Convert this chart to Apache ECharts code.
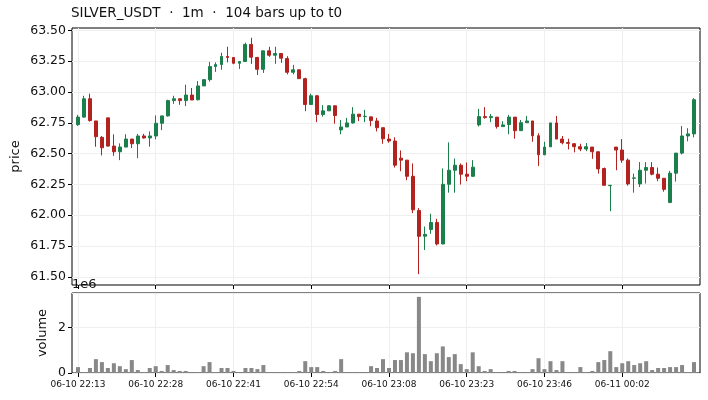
<!DOCTYPE html>
<html>
<head>
<meta charset="utf-8">
<script src="https://cdn.jsdelivr.net/npm/echarts@6/dist/echarts.min.js"></script>
<style>
  html, body { margin: 0; padding: 0; background: #fff; }
  #chart { width: 708px; height: 400px; }
</style>
</head>
<body>
<div id="chart"></div>
<script>
// 1m bars
var opens = [62.735, 62.796, 62.945, 62.765, 62.632, 62.79, 62.561, 62.515, 62.553, 62.618,
  62.58, 62.643, 62.627, 62.643, 62.746, 62.806, 62.93, 62.945, 62.93, 62.975,
  62.937, 63.049, 63.1, 63.206, 63.222, 63.288, 63.28, 63.233, 63.247, 63.386,
  63.28, 63.184, 63.334, 63.298, 63.312, 63.271, 63.16, 63.18, 63.108, 62.898,
  62.969, 62.817, 62.847, 62.888, 62.692, 62.716, 62.749, 62.82, 62.80, 62.798,
  62.765, 62.71, 62.618, 62.602, 62.463, 62.447, 62.316, 62.039, 61.83, 61.884,
  61.941, 61.767, 62.251, 62.365, 62.406, 62.333, 62.316, 62.733, 62.80, 62.792,
  62.796, 62.719, 62.735, 62.796, 62.686, 62.751, 62.765, 62.645, 62.49, 62.555,
  62.749, 62.618, 62.59, 62.58, 62.556, 62.537, 62.553, 62.515, 62.379, 62.24,
  62.553, 62.529, 62.447, 62.30, 62.254, 62.365, 62.387, 62.333, 62.30, 62.104,
  62.341, 62.504, 62.643, 62.66]
var closes = [62.796, 62.945, 62.768, 62.637, 62.547, 62.561, 62.515, 62.553, 62.618, 62.58,
  62.643, 62.627, 62.643, 62.746, 62.806, 62.93, 62.945, 62.93, 62.975, 62.935,
  63.049, 63.1, 63.206, 63.222, 63.288, 63.28, 63.233, 63.247, 63.386, 63.282,
  63.184, 63.334, 63.298, 63.312, 63.274, 63.16, 63.18, 63.108, 62.898, 62.969,
  62.817, 62.847, 62.888, 62.809, 62.716, 62.749, 62.82, 62.80, 62.803, 62.768,
  62.71, 62.62, 62.602, 62.406, 62.447, 62.316, 62.044, 61.829, 61.845, 61.941,
  61.767, 62.251, 62.365, 62.406, 62.333, 62.316, 62.39, 62.80, 62.792, 62.80,
  62.719, 62.733, 62.796, 62.686, 62.751, 62.765, 62.645, 62.49, 62.553, 62.749,
  62.618, 62.588, 62.583, 62.556, 62.537, 62.556, 62.515, 62.376, 62.243, 62.243,
  62.529, 62.447, 62.254, 62.303, 62.365, 62.387, 62.333, 62.30, 62.21, 62.341,
  62.504, 62.643, 62.66, 62.937]
var lows = [62.724, 62.79, 62.76, 62.556, 62.485, 62.556, 62.482, 62.447, 62.553, 62.545,
  62.463, 62.622, 62.556, 62.616, 62.69, 62.80, 62.904, 62.896, 62.885, 62.935,
  62.932, 63.049, 63.084, 63.163, 63.18, 63.24, 63.225, 63.187, 63.245, 63.228,
  63.138, 63.155, 63.285, 63.228, 63.236, 63.143, 63.143, 63.108, 62.844, 62.898,
  62.755, 62.80, 62.847, 62.743, 62.657, 62.716, 62.743, 62.763, 62.755, 62.722,
  62.68, 62.58, 62.588, 62.387, 62.357, 62.284, 62.017, 61.522, 61.718, 61.849,
  61.755, 61.764, 62.183, 62.183, 62.249, 62.276, 62.31, 62.72, 62.784, 62.755,
  62.703, 62.719, 62.657, 62.621, 62.686, 62.751, 62.596, 62.40, 62.49, 62.555,
  62.618, 62.575, 62.534, 62.51, 62.52, 62.52, 62.458, 62.338, 62.243, 62.033,
  62.365, 62.425, 62.24, 62.183, 62.229, 62.257, 62.324, 62.276, 62.191, 62.098,
  62.273, 62.493, 62.60, 62.632]
var highs = [62.814, 62.969, 62.986, 62.765, 62.643, 62.79, 62.656, 62.583, 62.657, 62.618,
  62.66, 62.66, 62.68, 62.81, 62.806, 62.937, 62.969, 62.945, 63.059, 63.032,
  63.089, 63.1, 63.244, 63.24, 63.318, 63.367, 63.28, 63.247, 63.40, 63.44,
  63.285, 63.334, 63.367, 63.367, 63.312, 63.29, 63.22, 63.18, 63.116, 62.986,
  62.975, 62.893, 62.893, 62.888, 62.773, 62.79, 62.877, 62.82, 62.855, 62.798,
  62.79, 62.71, 62.66, 62.632, 62.526, 62.447, 62.42, 62.058, 61.908, 62.012,
  61.971, 62.379, 62.591, 62.46, 62.42, 62.428, 62.447, 62.863, 62.877, 62.822,
  62.796, 62.763, 62.814, 62.796, 62.773, 62.806, 62.765, 62.665, 62.596, 62.749,
  62.806, 62.643, 62.621, 62.586, 62.58, 62.586, 62.553, 62.515, 62.387, 62.243,
  62.553, 62.618, 62.46, 62.338, 62.431, 62.431, 62.431, 62.387, 62.30, 62.36,
  62.504, 62.724, 62.706, 62.95]
var volumes = [260000, 40000, 220000, 610000, 480000, 220000, 430000, 300000, 170000, 570000,
  130000, 40000, 220000, 300000, 90000, 350000, 130000, 90000, 90000, 10000,
  40000, 300000, 480000, 40000, 220000, 220000, 90000, 10000, 220000, 220000,
  170000, 350000, 40000, 40000, 40000, 40000, 40000, 90000, 520000, 260000,
  260000, 90000, 10000, 90000, 610000, 40000, 40000, 40000, 10000, 300000,
  220000, 610000, 220000, 570000, 570000, 910000, 870000, 3350000, 830000, 520000,
  870000, 1170000, 700000, 830000, 390000, 170000, 910000, 300000, 90000, 170000,
  40000, 10000, 90000, 90000, 40000, 40000, 170000, 650000, 170000, 520000,
  130000, 520000, 40000, 40000, 260000, 40000, 90000, 480000, 570000, 960000,
  260000, 430000, 520000, 350000, 430000, 520000, 130000, 220000, 220000, 260000,
  260000, 350000, 40000, 480000]
var timeLabels = ['06-10 22:13', '06-10 22:28', '06-10 22:41', '06-10 22:54',
  '06-10 23:08', '06-10 23:23', '06-10 23:46', '06-11 00:02']
var priceTicks = [61.5, 61.75, 62.0, 62.25, 62.5, 62.75, 63.0, 63.25, 63.5]
var tickEvery = 13

var UP = '#1b7f4c'
var DOWN = '#b2221e'
var FONT = 'DejaVu Sans'

var chart = echarts.init(document.getElementById('chart'), null, { renderer: 'canvas' })

// one empty slot on each side, like xlim(-1, n)
var cats = ['']
var candles = ['-']
var vols = ['-']
for (var i = 0; i < opens.length; i++) {
  cats.push(String(i))
  candles.push([opens[i], closes[i], lows[i], highs[i]])
  vols.push(volumes[i])
}
cats.push('')
candles.push('-')
vols.push('-')

function isTick(index) {
  return index >= 1 && (index - 1) % tickEvery === 0 && (index - 1) / tickEvery < timeLabels.length
}

var gridLine = { show: true, lineStyle: { color: '#efefef', width: 1 } }

var option = {
  animation: false,
  backgroundColor: '#fff',
  textStyle: { fontFamily: FONT },
  title: {
    text: 'SILVER_USDT  ·  1m  ·  104 bars up to t0',
    left: 71, top: 6, padding: 0,
    textStyle: { fontFamily: FONT, fontSize: 13.5, fontWeight: 'normal', color: '#111' }
  },
  grid: [
    { left: 72, right: 8, top: 28, height: 257, show: true, borderColor: '#000', borderWidth: 1, backgroundColor: 'transparent' },
    { left: 72, right: 8, top: 293, height: 80, show: true, borderColor: '#000', borderWidth: 1, backgroundColor: 'transparent' }
  ],
  xAxis: [
    {
      type: 'category', gridIndex: 0, data: cats, boundaryGap: false,
      axisLine: { show: false },
      axisTick: { show: true, interval: isTick, length: 4, lineStyle: { color: '#000' } },
      axisLabel: { show: false },
      splitLine: { show: true, interval: isTick, lineStyle: { color: '#efefef' } }
    },
    {
      type: 'category', gridIndex: 1, data: cats, boundaryGap: false,
      axisLine: { show: false },
      axisTick: { show: true, interval: isTick, length: 4, lineStyle: { color: '#000' } },
      axisLabel: {
        show: true, interval: isTick, margin: 7, fontSize: 9, color: '#111', fontFamily: FONT,
        formatter: function (value, index) {
          return timeLabels[(index - 1) / tickEvery]
        }
      },
      splitLine: { show: true, interval: isTick, lineStyle: { color: '#efefef' } }
    }
  ],
  yAxis: [
    {
      type: 'value', gridIndex: 0, min: 61.434, max: 63.519, scale: true,
      name: 'price', nameLocation: 'middle', nameGap: 50, nameRotate: 90, nameMoveOverlap: false,
      nameTextStyle: { fontFamily: FONT, fontSize: 13, color: '#111' },
      axisLine: { show: false },
      axisTick: { show: true, length: 4, customValues: priceTicks, lineStyle: { color: '#000' } },
      axisLabel: {
        customValues: priceTicks, margin: 6, fontSize: 12.5, color: '#111', fontFamily: FONT,
        formatter: function (v) { return v.toFixed(2) }
      },
      splitLine: gridLine
    },
    {
      type: 'value', gridIndex: 1, min: 0, max: 3520000, interval: 2000000,
      name: 'volume', nameLocation: 'middle', nameGap: 23, nameRotate: 90, nameMoveOverlap: false,
      nameTextStyle: { fontFamily: FONT, fontSize: 13, color: '#111' },
      axisLine: { show: false },
      axisTick: { show: true, length: 4, lineStyle: { color: '#000' } },
      axisLabel: {
        margin: 6, fontSize: 12.5, color: '#111', fontFamily: FONT, showMaxLabel: false,
        formatter: function (v) { return String(v / 1e6) }
      },
      splitLine: gridLine
    }
  ],
  graphic: [
    {
      type: 'text', left: 72, top: 278,
      style: { text: '1e6', font: '13px "DejaVu Sans"', fill: '#111' }
    }
  ],
  series: [
    {
      type: 'candlestick', xAxisIndex: 0, yAxisIndex: 0,
      data: candles,
      barWidth: 3.4,
      itemStyle: { color: UP, color0: DOWN, borderColor: UP, borderColor0: DOWN, borderWidth: 1 }
    },
    {
      type: 'bar', xAxisIndex: 1, yAxisIndex: 1,
      data: vols,
      barWidth: 4,
      itemStyle: { color: '#888888' }
    }
  ]
}

chart.setOption(option)
</script>
</body>
</html>
